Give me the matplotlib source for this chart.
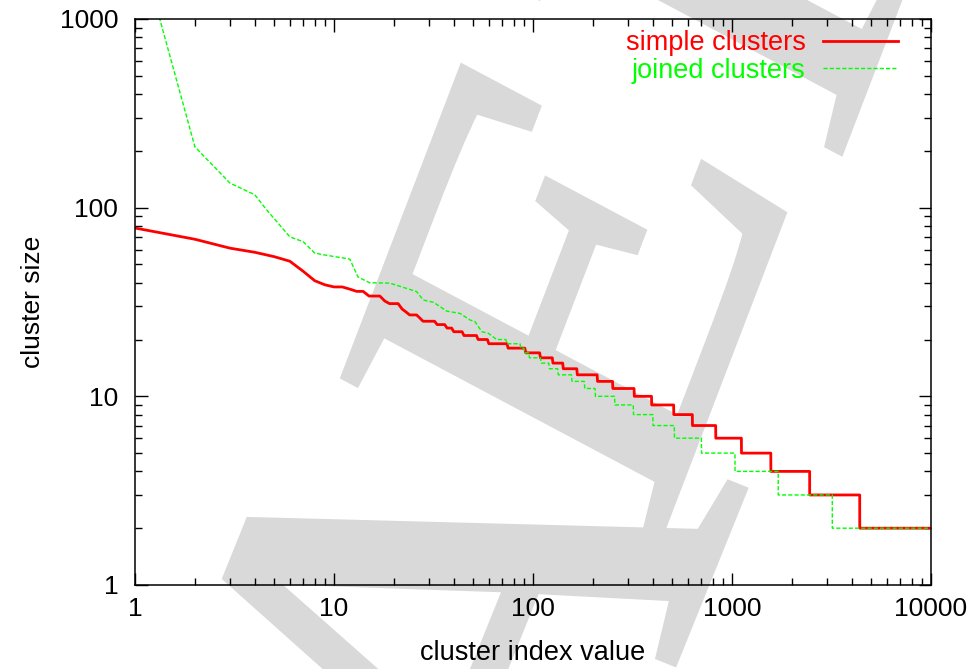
import numpy as np
import matplotlib
matplotlib.use("Agg")
import matplotlib.pyplot as plt
from matplotlib.ticker import LogLocator, NullFormatter
from matplotlib.textpath import TextPath
from matplotlib.patches import PathPatch
from matplotlib.font_manager import FontProperties
from matplotlib.transforms import Affine2D

plt.rcParams["font.family"] = ["Liberation Sans", "DejaVu Sans"]

# simple clusters: first ranks one by one, then size levels with the rank where each starts
red_head_rank = [1, 2, 3, 4, 5, 6, 7, 8, 9]
red_head_size = [78, 68, 61, 58, 55, 52, 46, 41, 39]
red_step_start = [10, 12, 13, 15, 18, 19, 22, 23, 24, 27, 28, 33, 37, 40, 45, 53, 60, 75,
                  92, 109, 126, 142, 167, 211, 252, 323, 395, 510, 633, 829, 1116, 1568,
                  2457, 4385]
red_step_size = [38, 37, 36, 34, 32, 31, 29, 28, 27, 26, 25, 24, 23, 22, 21, 20, 19, 18,
                 17, 16, 15, 14, 13, 12, 11, 10, 9, 8, 7, 6, 5, 4, 3, 2]

# joined clusters
green_head_rank = [1, 2, 3, 4, 4.6, 6, 7, 8, 8.8, 12, 13.2, 15.1, 19.1, 22.3, 26, 28.1,
                   31.6, 34.1, 36.8, 43, 48.2, 51.1, 55.3, 59.6, 65.7, 73]
green_head_size = [3000, 210, 135, 117, 97, 70, 66, 57.5, 56.3, 53.4, 42.9, 40, 39.8, 37.8,
                   35.9, 32.4, 31.5, 29.9, 28.3, 27.5, 25.4, 24.9, 22, 21.6, 20, 20]
green_step_start = [74, 87, 91, 96, 110, 121, 134, 157, 182, 206, 258, 320, 401, 514, 703,
                    1036, 1708, 3192]
green_step_size = [19, 18, 17, 16, 15, 14, 13, 12, 11, 10, 9, 8, 7, 6, 5, 4, 3, 2]

last_rank = 10000

x_ticks = [1, 10, 100, 1000, 10000]
y_ticks = [1, 10, 100, 1000]


# vertices of a line through (rank, size) when many ranks share a size
def escada(starts, sizes, last):
    xs, ys = [], []
    ends = [s - 1 for s in starts[1:]] + [last]
    for s, e, v in zip(starts, ends, sizes):
        xs.append(s)
        ys.append(v)
        if e > s:
            xs.append(e)
            ys.append(v)
    return xs, ys


fig = plt.figure(figsize=(9.72, 6.69), dpi=100)
fig.patch.set_facecolor("white")
ax = fig.add_axes([0.1389, 0.1256, 0.9578 - 0.1389, 0.9716 - 0.1256])
ax.set_facecolor("none")

# grey watermark letters behind everything (pixel coords, y up)
px = Affine2D().scale(1 / 972, 1 / 669) + fig.transFigure
serif = FontProperties(family="Liberation Serif")
cinza = "#d9d9d9"

tp = TextPath((0, 0), "A", size=680, prop=serif)
tr = Affine2D().rotate_deg(68).translate(563, -271) + px
fig.add_artist(PathPatch(tp, transform=tr, facecolor=cinza, edgecolor=cinza, lw=4, zorder=-10))

# the E and R look slanted, so a general affine map (per 100 units of glyph)
for letra, x0, y0 in [("E", 650, 108), ("R", 832, 495)]:
    tp = TextPath((0, 0), letra, size=100, prop=serif)
    m = np.array([[2.413, -4.777, x0], [6.295, 2.537, y0], [0, 0, 1]])
    tr = Affine2D(m) + px
    fig.add_artist(PathPatch(tp, transform=tr, facecolor=cinza, edgecolor=cinza, lw=5, zorder=-10))

rx, ry = escada(red_step_start, red_step_size, last_rank)
gx, gy = escada(green_step_start, green_step_size, last_rank)

ax.plot(red_head_rank + rx, red_head_size + ry, color="#ff0000", lw=2, label="simple clusters")
ax.plot(green_head_rank + gx, green_head_size + gy, color="#00ff00", lw=1,
        dashes=(3, 1.5), label="joined clusters")

ax.set_xscale("log")
ax.set_yscale("log")
ax.set_xlim(1, 10000)
ax.set_ylim(1, 1000)

ax.set_xticks(x_ticks, [str(t) for t in x_ticks])
ax.set_yticks(y_ticks, [str(t) for t in y_ticks])
ax.xaxis.set_minor_locator(LogLocator(base=10, subs=range(2, 10)))
ax.yaxis.set_minor_locator(LogLocator(base=10, subs=range(2, 10)))
ax.xaxis.set_minor_formatter(NullFormatter())
ax.yaxis.set_minor_formatter(NullFormatter())
ax.tick_params(which="both", direction="in", top=True, right=True, width=1, color="black")
ax.tick_params(which="major", length=9)
ax.tick_params(which="minor", length=5)
ax.tick_params(axis="x", labelsize=19, pad=9)
ax.tick_params(axis="y", labelsize=19, pad=12)
for s in ax.spines.values():
    s.set_linewidth(1.1)

ax.set_xlabel("cluster index value", fontsize=19.5, va="center")
ax.xaxis.set_label_coords(0.5, -0.12)
ax.set_ylabel("cluster size", fontsize=19, va="center")
ax.yaxis.set_label_coords(-0.128, 0.5)

leg = ax.legend(loc="upper right", bbox_to_anchor=(0.9585, 0.98), frameon=False,
                markerfirst=False, fontsize=19.5, handlelength=2.75, handletextpad=0.65,
                labelspacing=0.06, borderpad=0, borderaxespad=0, labelcolor="linecolor")

fig.savefig("out.png", dpi=100)
